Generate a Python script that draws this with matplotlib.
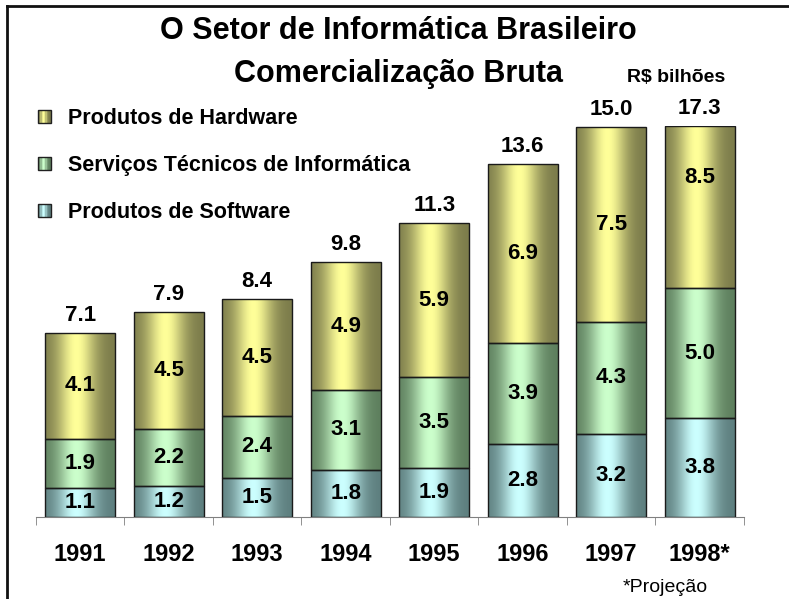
import numpy as np
import matplotlib
matplotlib.use("Agg")
import matplotlib.pyplot as plt
from matplotlib.patches import Rectangle
from matplotlib.lines import Line2D
from matplotlib.legend_handler import HandlerBase

plt.rcParams.update({"font.family": ["Liberation Sans", "DejaVu Sans"],
                     "font.weight": "bold"})

# ---- data (R$ bilhões) ----
years = ["1991", "1992", "1993", "1994", "1995", "1996", "1997", "1998*"]
software = [1.1, 1.2, 1.5, 1.8, 1.9, 2.8, 3.2, 3.8]
servicos = [1.9, 2.2, 2.4, 3.1, 3.5, 3.9, 4.3, 5.0]
hardware = [4.1, 4.5, 4.5, 4.9, 5.9, 6.9, 7.5, 8.5]
totals = [7.1, 7.9, 8.4, 9.8, 11.3, 13.6, 15.0, 17.3]
series_names = ["Produtos de Software", "Serviços Técnicos de Informática",
                "Produtos de Hardware"]

# (dark edge colour, light highlight colour) per series
SHADES = {
    "Produtos de Software": ((0.36, 0.49, 0.49), (0.80, 1.00, 1.00)),
    "Serviços Técnicos de Informática": ((0.36, 0.49, 0.36), (0.80, 1.00, 0.80)),
    "Produtos de Hardware": ((0.48, 0.48, 0.29), (1.00, 1.00, 0.60)),
}
YMAX = 15.05
WIDTH = 0.79


def _ramp(n=256):
    x = np.linspace(0, 1, n)
    return np.exp(-((x - 0.45) / 0.27) ** 2)


def gradient(dark, light, n=256):
    w = _ramp(n)[:, None]
    return (np.array(dark)[None, :] * (1 - w)
            + np.array(light)[None, :] * w)[None, :, :]


class GradientHandler(HandlerBase):
    def create_artists(self, legend, orig, xd, yd, width, height, fontsize, trans):
        dark, light = SHADES[orig.get_label()]
        side = height * 0.85
        y0 = yd + (height - side) / 2
        n = 10
        w = _ramp(n)
        arts = []
        for i in range(n):
            c = np.array(dark) * (1 - w[i]) + np.array(light) * w[i]
            arts.append(Rectangle((xd + i * side / n, y0), side / n, side,
                                  fc=c, ec="none", transform=trans))
        arts.append(Rectangle((xd, y0), side, side, fc="none", ec="#202020",
                              lw=1.0, transform=trans))
        return arts


fig = plt.figure(figsize=(7.89, 5.99), dpi=100)
ax = fig.add_axes([0.0456, 0.1369, 0.8973, 0.6528])
x = np.arange(len(years))

bottom = np.zeros(len(years))
for name, vals in zip(series_names, [software, servicos, hardware]):
    vals = np.array(vals)
    visible = np.minimum(vals, YMAX - bottom)
    bars = ax.bar(x, visible, WIDTH, bottom=bottom, fc="none",
                  ec="#1a1a1a", lw=1.0, zorder=3, label=name)
    dark, light = SHADES[name]
    img = gradient(dark, light)
    for b in bars:
        im = ax.imshow(img, extent=(b.get_x(), b.get_x() + b.get_width(),
                                    b.get_y(), b.get_y() + b.get_height()),
                       aspect="auto", interpolation="bilinear", zorder=2)
        im.set_clip_path(b)
    for xi, v, b0 in zip(x, vals, bottom):
        ax.text(xi, b0 + v / 2, f"{v:.1f}", ha="center", va="center",
                fontsize=16, fontweight="bold", zorder=4)
    bottom = bottom + vals

for xi, t in zip(x, totals):
    ax.annotate(f"{t:.1f}", (xi, min(t, YMAX)), xytext=(0, 5),
                textcoords="offset points", ha="center", va="bottom",
                fontsize=16, fontweight="bold", annotation_clip=False)

ax.set_xlim(-0.5, len(years) - 0.5)
ax.set_ylim(0, YMAX)
for s in ("top", "right", "left"):
    ax.spines[s].set_visible(False)
ax.spines["bottom"].set_color("#808080")
ax.set_yticks([])
ax.set_xticks(x)
ax.set_xticklabels(years, fontsize=17, fontweight="bold")
ax.set_xticks(np.arange(len(years) + 1) - 0.5, minor=True)
ax.tick_params(axis="x", which="major", length=0, pad=19)
ax.tick_params(axis="x", which="minor", length=6, color="#808080",
               direction="out")

handles = [Rectangle((0, 0), 1, 1, label=n) for n in series_names[::-1]]
fig.legend(handles=handles, labels=series_names[::-1],
           handler_map={Rectangle: GradientHandler()},
           loc="upper left", bbox_to_anchor=(0.037, 0.834), frameon=False,
           prop={"size": 15.5, "weight": "bold"}, labelspacing=1.2,
           handlelength=0.8, handletextpad=0.6, borderaxespad=0)

fig.text(0.505, 0.948, "O Setor de Informática Brasileiro", ha="center",
         va="center", fontsize=22, fontweight="bold")
fig.text(0.505, 0.876, "Comercialização Bruta", ha="center", va="center",
         fontsize=22, fontweight="bold")
fig.text(0.857, 0.871, "R$ bilhões", ha="center", va="center",
         fontsize=14, fontweight="bold")
fig.text(0.843, 0.02, "*Projeção", ha="center", va="center",
         fontsize=14, fontweight="normal")

# frame (left + top)
fig.add_artist(Line2D([7 / 789, 7 / 789], [0, 1 - 6 / 599],
                      transform=fig.transFigure, color="#111111", lw=2))
fig.add_artist(Line2D([7 / 789, 1], [1 - 6 / 599, 1 - 6 / 599],
                      transform=fig.transFigure, color="#111111", lw=2))

fig.savefig("out.png", dpi=100)
